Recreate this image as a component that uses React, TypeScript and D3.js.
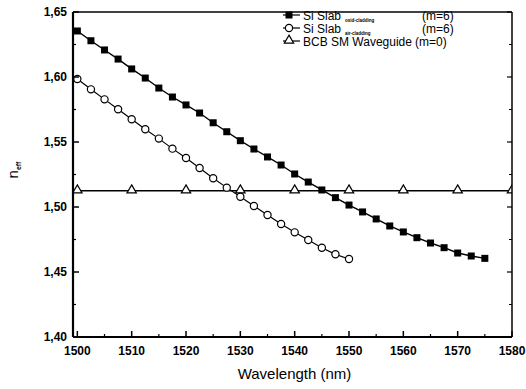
import React from 'react';
import * as d3 from 'd3';

// wavelength grid (nm)
const oxidWl = d3.range(0, 31).map(i => 1500 + i * 2.5);
const oxidNeff = [
  1.6354, 1.6279, 1.6208, 1.6138, 1.6062, 1.5992, 1.5915, 1.5846, 1.5785, 1.5723,
  1.5648, 1.5579, 1.5510, 1.5446, 1.5385, 1.5323, 1.5254, 1.5192, 1.5131, 1.5072,
  1.5015, 1.4962, 1.4908, 1.4854, 1.4808, 1.4764, 1.4723, 1.4687, 1.4646, 1.4623,
  1.4605,
];
const airWl = d3.range(0, 21).map(i => 1500 + i * 2.5);
const airNeff = [
  1.5985, 1.5905, 1.5828, 1.5752, 1.5675, 1.5598, 1.5526, 1.5449, 1.5377, 1.5300,
  1.5221, 1.5149, 1.5079, 1.5008, 1.4938, 1.4869, 1.4805, 1.4746, 1.4687, 1.4636,
  1.4600,
];
const bcbWl = [1500, 1510, 1520, 1530, 1540, 1550, 1560, 1570, 1580];
const bcbNeff = [1.5125, 1.5125, 1.5125, 1.5125, 1.5125, 1.5125, 1.5125, 1.5125, 1.5125];

const xTicks = [1500, 1510, 1520, 1530, 1540, 1550, 1560, 1570, 1580];
const yTicks = [1.40, 1.45, 1.50, 1.55, 1.60, 1.65];

const W = 526;
const H = 389;
const margin = { top: 12, right: 14, bottom: 52, left: 73 };
const font = '"Liberation Sans", Arial, sans-serif';

const App = () => {
  const x = d3.scaleLinear().domain([1499.2, 1580]).range([margin.left, W - margin.right]);
  const y = d3.scaleLinear().domain([1.40, 1.65]).range([H - margin.bottom, margin.top]);
  const line = d3.line<[number, number]>().x(d => x(d[0])).y(d => y(d[1]));

  const oxid = oxidWl.map((w, i) => [w, oxidNeff[i]] as [number, number]);
  const air = airWl.map((w, i) => [w, airNeff[i]] as [number, number]);
  const bcb = bcbWl.map((w, i) => [w, bcbNeff[i]] as [number, number]);

  const x0 = margin.left, x1 = W - margin.right, y0 = H - margin.bottom, y1 = margin.top;
  const xMinor = d3.range(1505, 1580, 10);
  const yMinor = d3.range(1.425, 1.65, 0.05);
  const tri = d3.symbol().type(d3.symbolTriangle).size(38)();

  const legend = [
    { label: 'Si Slab', sub: 'oxid-cladding', m: '(m=6)', kind: 'square' },
    { label: 'Si Slab', sub: 'air-cladding', m: '(m=6)', kind: 'circle' },
    { label: 'BCB SM Waveguide', sub: '', m: '(m=0)', kind: 'triangle' },
  ];

  const marker = (kind: string, cx: number, cy: number, key?: number) => {
    if (kind === 'square') return <rect key={key} x={cx - 3.5} y={cy - 3.5} width={7} height={7} fill="#000" />;
    if (kind === 'circle') return <circle key={key} cx={cx} cy={cy} r={3.6} fill="#fff" stroke="#000" strokeWidth={1.2} />;
    return <path key={key} d={tri} transform={`translate(${cx},${cy - 0.5})`} fill="#fff" stroke="#000" strokeWidth={1.2} />;
  };

  return (
    <svg width={W} height={H} style={{ position: 'absolute', left: 0, top: 0, background: '#fff' }}>
      <defs>
        <clipPath id="plot">
          <rect x={x0} y={y1} width={x1 - x0} height={y0 - y1} />
        </clipPath>
      </defs>

      {/* series */}
      <g clipPath="url(#plot)">
        <path d={line(bcb) || ''} fill="none" stroke="#000" strokeWidth={1.4} />
        <path d={line(oxid) || ''} fill="none" stroke="#000" strokeWidth={1.4} />
        <path d={line(air) || ''} fill="none" stroke="#000" strokeWidth={1.2} />
        {bcb.map((d, i) => marker('triangle', x(d[0]), y(d[1]), i))}
        {oxid.map((d, i) => marker('square', x(d[0]), y(d[1]), i))}
        {air.map((d, i) => marker('circle', x(d[0]), y(d[1]), i))}
      </g>

      {/* frame */}
      <line x1={x0} x2={x1} y1={y1} y2={y1} stroke="#000" strokeWidth={1.5} />
      <line x1={x1} x2={x1} y1={y1} y2={y0} stroke="#000" strokeWidth={1.5} />
      <line x1={x0} x2={x1} y1={y0} y2={y0} stroke="#000" strokeWidth={2.2} />
      <line x1={x0} x2={x0} y1={y1} y2={y0} stroke="#000" strokeWidth={2.2} />

      {/* x ticks */}
      {xTicks.map(t => (
        <g key={t}>
          <line x1={x(t)} x2={x(t)} y1={y0} y2={y0 - 6} stroke="#000" strokeWidth={1.5} />
          <text x={x(t)} y={y0 + 18} textAnchor="middle" fontFamily={font} fontWeight="bold" fontSize={12}>{t}</text>
        </g>
      ))}
      {xMinor.map(t => (
        <line key={t} x1={x(t)} x2={x(t)} y1={y0} y2={y0 - 3} stroke="#000" strokeWidth={1.2} />
      ))}

      {/* y ticks */}
      {yTicks.map(t => (
        <g key={t}>
          <line x1={x0} x2={x0 + 6} y1={y(t)} y2={y(t)} stroke="#000" strokeWidth={1.5} />
          <line x1={x1} x2={x1 - 5} y1={y(t)} y2={y(t)} stroke="#000" strokeWidth={1.2} />
          <text x={x0 - 6} y={y(t) + 4} textAnchor="end" fontFamily={font} fontWeight="bold" fontSize={12}>
            {t.toFixed(2).replace('.', ',')}
          </text>
        </g>
      ))}
      {yMinor.map(t => (
        <g key={t}>
          <line x1={x0} x2={x0 + 3} y1={y(t)} y2={y(t)} stroke="#000" strokeWidth={1.2} />
          <line x1={x1} x2={x1 - 3} y1={y(t)} y2={y(t)} stroke="#000" strokeWidth={1} />
        </g>
      ))}

      {/* axis labels */}
      <text x={(x0 + x1) / 2 + 2} y={H - 10} textAnchor="middle" fontFamily={font} fontSize={15}>Wavelength (nm)</text>
      <text transform={`translate(18,170) rotate(-90)`} fontFamily={font} fontSize={15} textAnchor="middle">
        n<tspan fontSize={7} dy={3} fontWeight="bold">eff</tspan>
      </text>

      {/* legend */}
      {legend.map((l, i) => {
        const ly = 15 + i * 13;
        return (
          <g key={i}>
            <line x1={283} x2={300} y1={ly} y2={ly} stroke="#000" strokeWidth={1.2} />
            {marker(l.kind, 289, ly)}
            <text x={303} y={ly + 4.5} fontFamily={font} fontSize={12}>
              {l.label}
              {l.sub && <tspan fontSize={4.5} fontWeight="bold" dx={4} dy={2}>{l.sub}</tspan>}
            </text>
            <text x={l.sub ? 422 : 415} y={ly + 4.5} fontFamily={font} fontSize={12}>{l.m}</text>
          </g>
        );
      })}
    </svg>
  );
};

export default App;
